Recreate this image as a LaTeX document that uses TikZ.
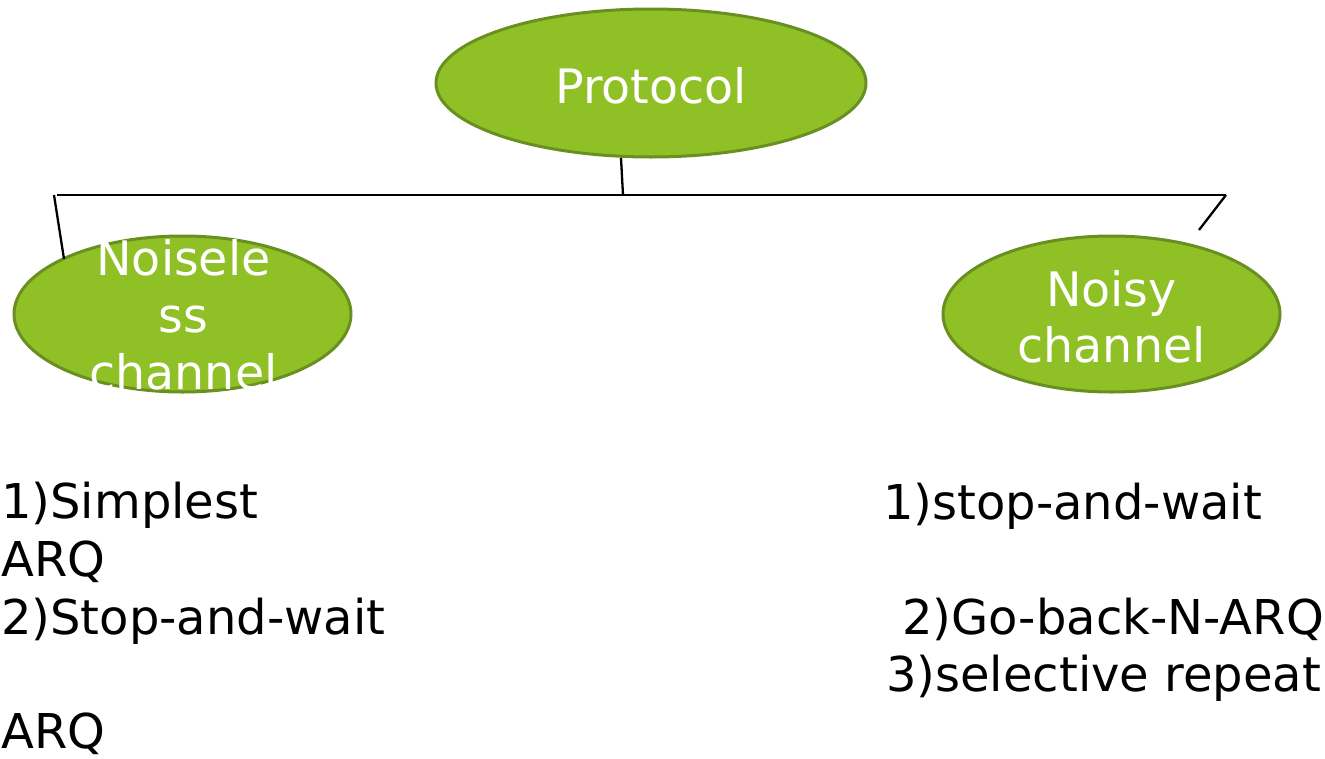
\documentclass[tikz,border=0pt]{standalone}
\usepackage{fontspec}
\setmainfont{DejaVu Sans}
\usetikzlibrary{shapes.geometric}
\definecolor{leaf}{RGB}{143,193,39}
\definecolor{leafedge}{RGB}{106,143,33}
\tikzset{
  bubble/.style={ellipse, draw=leafedge, fill=leaf, line width=3pt, inner sep=0pt},
  bubbletext/.style={text=white, font=\fontsize{47.5}{56}\selectfont, inner sep=0pt, anchor=base},
  listtext/.style={text=black, font=\fontsize{48}{57}\selectfont, inner sep=0pt, anchor=base west},
  wire/.style={draw=black, line width=2.3pt}
}
\begin{document}
\begin{tikzpicture}[x=1pt,y=-1pt]
\useasboundingbox (0,0) rectangle (1325,758);

% root and children
\node[bubble, minimum width=430pt, minimum height=148pt] (proto) at (651,83) {};
\node[bubble, minimum width=337pt, minimum height=156pt] (nl) at (182.5,314) {};
\node[bubble, minimum width=337pt, minimum height=156pt] (ny) at (1111.5,314) {};

\node[bubbletext] (protoT) at (651,103) {Protocol};
\node[bubbletext] (nlA) at (183.5,275) {Noisele};
\node[bubbletext] (nlB) at (183.5,332) {ss};
\node[bubbletext] (nlC) at (183.5,389) {channel};
\node[bubbletext] (nyA) at (1111.5,306) {Noisy};
\node[bubbletext] (nyB) at (1111.5,362) {channel};

% branching wires
\coordinate (stem) at (621,158);
\coordinate (bar) at (623,195);
\coordinate (barL) at (57,195);
\coordinate (barR) at (1226,195);
\coordinate (tickL) at (54,195);
\coordinate (nlTop) at (64,259);
\coordinate (nyTop) at (1199,230);
\draw[wire] (stem) -- (bar);
\draw[wire] (barL) -- (barR);
\draw[wire] (tickL) -- (nlTop);
\draw[wire] (barR) -- (nyTop);

% protocol lists
\node[listtext] (l1) at (1,518) {1)Simplest};
\node[listtext] (l2) at (1,576) {ARQ};
\node[listtext] (l3) at (1,634) {2)Stop-and-wait};
\node[listtext] (l4) at (1,748) {ARQ};

\node[listtext] (r1) at (883,519) {1)stop-and-wait};
\node[listtext] (r2) at (902,634) {2)Go-back-N-ARQ};
\node[listtext] (r3) at (886,691) {3)selective repeat};
\end{tikzpicture}
\end{document}
